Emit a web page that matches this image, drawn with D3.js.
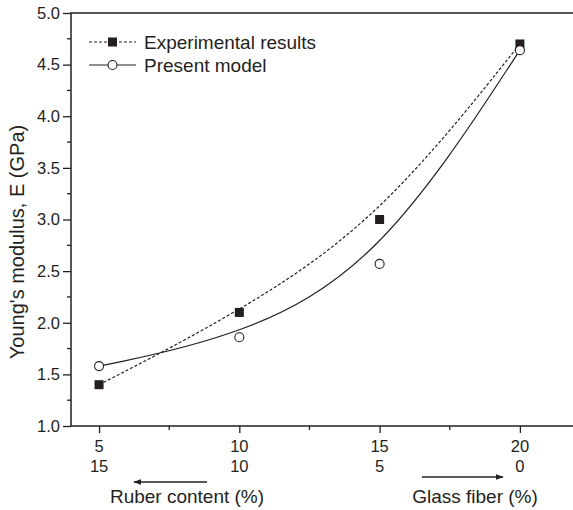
<!DOCTYPE html>
<html>
<head>
<meta charset="utf-8">
<script src="https://cdn.jsdelivr.net/npm/d3@7"></script>
<style>
  body { margin: 0; background: #fff; }
  svg text { font-family: "Liberation Sans", Arial, sans-serif; fill: #231f20; }
</style>
</head>
<body>
<div id="chart"></div>
<script>
// data
const rubber = [5, 10, 15, 20];          // x position (glass fiber %)
const fiberRow = ['5', '10', '15', '20'];
const rubberRow = ['15', '10', '5', '0'];
const experimental = [1.4, 2.1, 3.0, 4.7];
const model = [1.58, 1.86, 2.57, 4.64];
const yTicks = [1.0, 1.5, 2.0, 2.5, 3.0, 3.5, 4.0, 4.5, 5.0];

const width = 573, height = 510;
const ink = '#231f20';

const svg = d3.select('#chart').append('svg')
    .attr('width', width)
    .attr('height', height);

const x = d3.scaleLinear().domain([4, 22]).range([71, 576]);
const y = d3.scaleLinear().domain([1, 5]).range([426, 13]);

// y axis, major + minor ticks
const yAxis = svg.append('g').attr('transform', `translate(${x(4)},0)`);
yAxis.call(d3.axisLeft(y).tickValues(yTicks).tickFormat(d3.format('.1f')).tickSize(8).tickPadding(3))
    .call(g => g.select('.domain').remove());
yAxis.selectAll('.tick line').attr('stroke', ink).attr('stroke-width', 1.3);
yAxis.selectAll('.tick text').style('font-size', '16.5px').attr('fill', ink);
yAxis.selectAll('.minor').data(d3.range(1.25, 5, 0.5)).enter()
    .append('line')
    .attr('x1', 0).attr('x2', -4)
    .attr('y1', d => y(d)).attr('y2', d => y(d))
    .attr('stroke', ink).attr('stroke-width', 1.3);

// x axis
const xAxis = svg.append('g').attr('transform', `translate(0,${y(1)})`);
xAxis.call(d3.axisBottom(x).tickValues(rubber).tickFormat('').tickSize(7))
    .call(g => g.select('.domain').remove());
xAxis.selectAll('.tick line').attr('stroke', ink).attr('stroke-width', 1.3);
xAxis.selectAll('.minor').data([7.5, 12.5, 17.5]).enter()
    .append('line')
    .attr('x1', d => x(d)).attr('x2', d => x(d))
    .attr('y1', 0).attr('y2', 4)
    .attr('stroke', ink).attr('stroke-width', 1.3);

// frame: left, bottom, top
svg.append('path')
    .attr('d', `M${x(22)},${y(5)}H${x(4)}V${y(1)}H${x(22)}`)
    .attr('fill', 'none').attr('stroke', ink).attr('stroke-width', 1.5);

// two rows of x labels
svg.selectAll('.row1').data(rubber).enter().append('text')
    .attr('x', d => x(d)).attr('y', 452)
    .attr('text-anchor', 'middle').style('font-size', '16.5px')
    .text((d, i) => fiberRow[i]);
svg.selectAll('.row2').data(rubber).enter().append('text')
    .attr('x', d => x(d)).attr('y', 472)
    .attr('text-anchor', 'middle').style('font-size', '16.5px')
    .text((d, i) => rubberRow[i]);

// arrows and axis titles
const defs = svg.append('defs');
defs.append('marker').attr('id', 'arr')
    .attr('viewBox', '0 0 10 10').attr('refX', 9).attr('refY', 5)
    .attr('markerWidth', 10).attr('markerHeight', 6).attr('orient', 'auto')
    .append('path').attr('d', 'M0,1.5L10,5L0,8.5z').attr('fill', ink);
svg.append('line').attr('x1', 207).attr('x2', 134).attr('y1', 482).attr('y2', 482)
    .attr('stroke', ink).attr('stroke-width', 1.3).attr('marker-end', 'url(#arr)');
svg.append('line').attr('x1', 422).attr('x2', 503).attr('y1', 477).attr('y2', 477)
    .attr('stroke', ink).attr('stroke-width', 1.3).attr('marker-end', 'url(#arr)');
svg.append('text').attr('x', 187).attr('y', 503).attr('text-anchor', 'middle')
    .style('font-size', '19px').text('Ruber content (%)');
svg.append('text').attr('x', 475).attr('y', 503).attr('text-anchor', 'middle')
    .style('font-size', '19px').text('Glass fiber (%)');

svg.append('text')
    .attr('transform', `translate(24,${242}) rotate(-90)`)
    .attr('text-anchor', 'middle').style('font-size', '20px')
    .text("Young's modulus, E (GPa)");

// fitted curves (B-spline through the points, like the original)
const line = (vals) => d3.line().curve(d3.curveBasis)
    .x((d, i) => x(rubber[i])).y(d => y(d))(vals);

svg.append('path').attr('d', line(experimental))
    .attr('fill', 'none').attr('stroke', ink).attr('stroke-width', 1.2)
    .attr('stroke-dasharray', '3,2');
svg.append('path').attr('d', line(model))
    .attr('fill', 'none').attr('stroke', ink).attr('stroke-width', 1.2);

// markers
svg.selectAll('.sq').data(experimental).enter().append('rect')
    .attr('x', (d, i) => x(rubber[i]) - 4.5).attr('y', d => y(d) - 4.5)
    .attr('width', 9).attr('height', 9).attr('fill', ink);
svg.selectAll('.ci').data(model).enter().append('circle')
    .attr('cx', (d, i) => x(rubber[i])).attr('cy', d => y(d)).attr('r', 4.5)
    .attr('fill', '#fff').attr('stroke', ink).attr('stroke-width', 1.1);

// legend
const leg = svg.append('g');
leg.append('line').attr('x1', 89).attr('x2', 136).attr('y1', 42).attr('y2', 42)
    .attr('stroke', ink).attr('stroke-width', 1.2).attr('stroke-dasharray', '3,2');
leg.append('rect').attr('x', 108).attr('y', 37.5).attr('width', 9).attr('height', 9).attr('fill', ink);
leg.append('text').attr('x', 144).attr('y', 49).style('font-size', '19px').text('Experimental results');
leg.append('line').attr('x1', 89).attr('x2', 136).attr('y1', 65).attr('y2', 65)
    .attr('stroke', ink).attr('stroke-width', 1.2);
leg.append('circle').attr('cx', 112.5).attr('cy', 65).attr('r', 4.5)
    .attr('fill', '#fff').attr('stroke', ink).attr('stroke-width', 1.1);
leg.append('text').attr('x', 144).attr('y', 72).style('font-size', '19px').text('Present model');
</script>
</body>
</html>
